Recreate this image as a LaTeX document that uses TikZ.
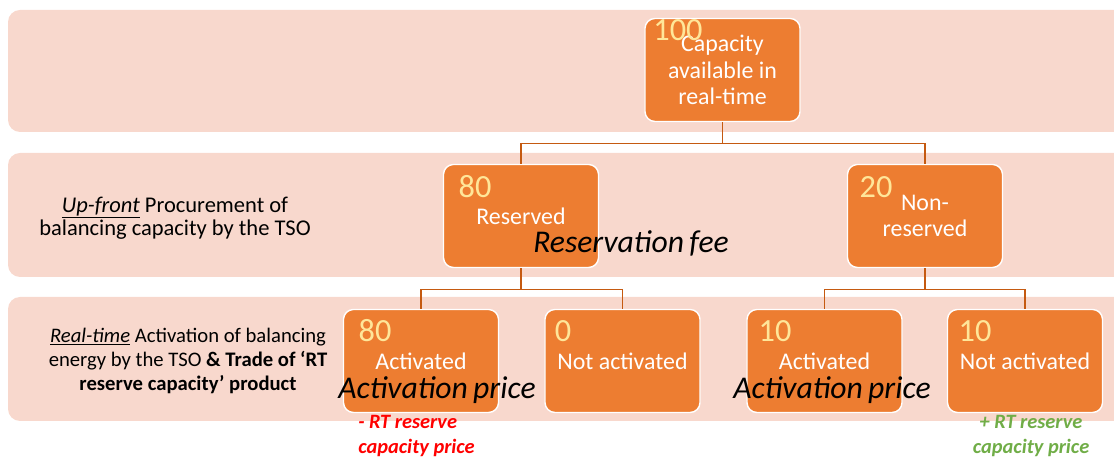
\documentclass[tikz,border=0pt]{standalone}
\usepackage{fontspec}
\setmainfont{Carlito}
\usetikzlibrary{positioning,calc}

\definecolor{bandpink}{HTML}{F8D8CD}
\definecolor{boxorange}{HTML}{ED7D31}
\definecolor{linkbrown}{HTML}{C55A11}
\definecolor{numyellow}{HTML}{FFE699}
\definecolor{pricered}{HTML}{FF0000}
\definecolor{pricegreen}{HTML}{70AD47}

\tikzset{
	band/.style={fill=bandpink, draw=none, rounded corners=0.3cm},
	stage/.style={draw=white, line width=1pt, fill=boxorange, rounded corners=0.25cm,
		minimum width=3.875cm, minimum height=2.575cm, inner sep=0pt,
		text=white, align=center, font=\fontsize{17}{19}\selectfont},
	amount/.style={text=numyellow, inner sep=0pt, font=\fontsize{23}{26}\selectfont},
	link/.style={draw=linkbrown, line width=0.9pt},
	rowtext/.style={align=center, inner sep=0pt, font=\fontsize{16}{16.5}\selectfont},
	payment/.style={inner sep=0pt, font=\fontsize{22.5}{26}\selectfont\itshape},
	rtprice/.style={inner sep=0pt, font=\fontsize{14.5}{17.7}\selectfont\bfseries\itshape}
}

\begin{document}
\begin{tikzpicture}[x=0.025cm, y=-0.025cm]
			%%%%% START %%%%%
			\clip (0, 0) rectangle (1114, 457);
			
			% background bands
			\fill[band] (8, 10) rectangle (1140, 132);
			\fill[band] (8, 153) rectangle (1140, 277);
			\fill[band] (8, 297) rectangle (1140, 421);
			
			\node[rowtext] (upfront) at (175, 218) {\underline{\textit{Up-front}} Procurement of\\balancing capacity by the TSO};
			\node[rowtext, font=\fontsize{14.7}{17}\selectfont] (realtime) at (188, 361) {\underline{\textit{Real-time}} Activation of balancing\\energy by the TSO \textbf{\& Trade of ‘RT}\\\textbf{reserve capacity’ product}};
			
			% the tree
			\node[stage] (avail) at (722.5, 70) {Capacity\\available in\\real-time};
			\node[stage] (res) at (521, 216) {Reserved};
			\node[stage] (nonres) at (925, 216) {Non-\\reserved};
			\node[stage] (resact) at (421, 361) {Activated};
			\node[stage] (resnot) at (622.5, 361) {Not activated};
			\node[stage] (nonresact) at (824.5, 361) {Activated};
			\node[stage] (nonresnot) at (1025, 361) {Not activated};
			
			\node[amount] (n100) at (678, 30) {100};
			\node[amount] (n80a) at (475, 187) {80};
			\node[amount] (n20) at (876, 187) {20};
			\node[amount] (n80b) at (375, 331) {80};
			\node[amount] (n0) at (563, 331) {0};
			\node[amount] (n10a) at (775, 331) {10};
			\node[amount] (n10b) at (975, 331) {10};
			
			\draw[link] (avail.south) -- ++(0, 21) -| (res.north);
			\draw[link] (avail.south) -- ++(0, 21) -| (nonres.north);
			\draw[link] (res.south) -- ++(0, 21) -| (resact.north);
			\draw[link] (res.south) -- ++(0, 21) -| (resnot.north);
			\draw[link] (nonres.south) -- ++(0, 21) -| (nonresact.north);
			\draw[link] (nonres.south) -- ++(0, 21) -| (nonresnot.north);
			
			% payments
			\node[payment] (fee) at (631, 243) {Reservation\,fee};
			\node[payment] (actprice1) at (437, 390) {Activation\,price};
			\node[payment] (actprice2) at (832, 390) {Activation\,price};
			
			\node[rtprice, text=pricered, align=left, anchor=north west] (minusrt) at (358, 415) {- RT reserve\\capacity price};
			\node[rtprice, text=pricegreen, align=center, anchor=north] (plusrt) at (1031, 415) {+ RT reserve\\capacity price};
			%%%%% END %%%%%
\end{tikzpicture}
\end{document}
